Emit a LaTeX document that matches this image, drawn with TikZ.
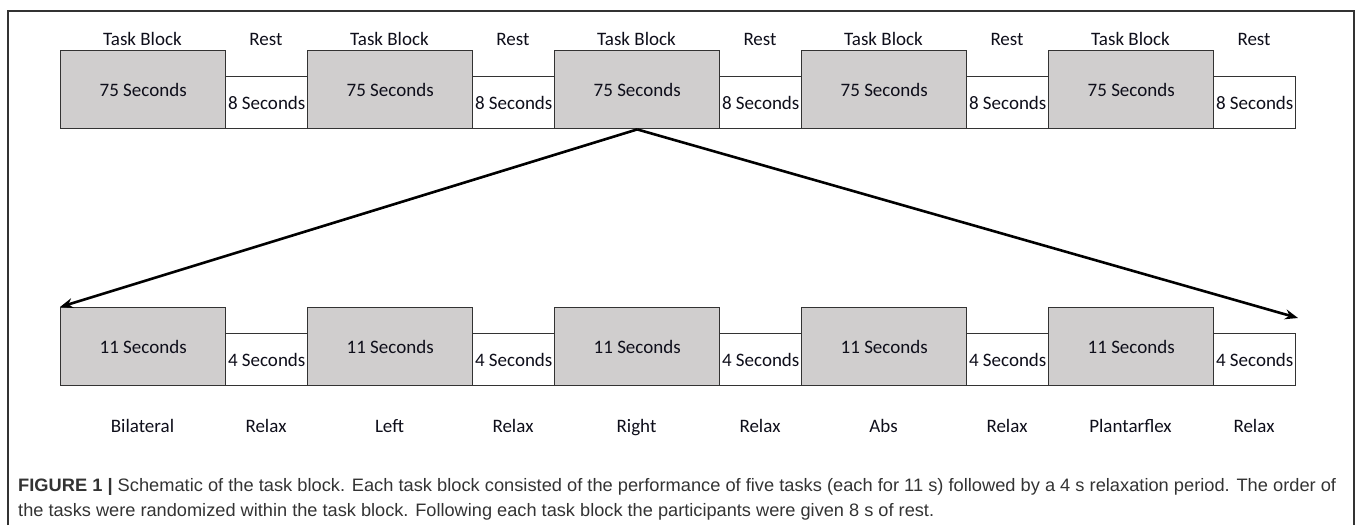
\documentclass[tikz,border=0pt]{standalone}
\usepackage{fontspec}
\usepackage{graphicx}
\setmainfont{Carlito}
\newfontfamily\capfont{Liberation Sans}
\usetikzlibrary{arrows.meta}
\definecolor{boxgray}{HTML}{D0CECE}
\definecolor{edgegray}{HTML}{333333}
\definecolor{captext}{HTML}{333333}
\definecolor{boxtext}{HTML}{0E0E1A}
\tikzset{
  taskbox/.style={draw=edgegray, line width=1.4pt, fill=boxgray, minimum width=165pt, minimum height=78pt, anchor=north west, inner sep=0pt, text=boxtext, font=\fontsize{19}{22}\selectfont},
  restbox/.style={draw=edgegray, line width=1.4pt, fill=white, minimum width=82pt, minimum height=52pt, anchor=north west, inner sep=0pt, text=boxtext, font=\fontsize{19}{22}\selectfont},
  lbl/.style={inner sep=0pt, text=boxtext, font=\fontsize{19}{22}\selectfont},
  conn/.style={line width=2.6pt, -{Stealth[length=13pt,width=10pt]}},
  captxt/.style={anchor=base west, inner sep=0pt, text=captext, font=\capfont\fontsize{18}{22}\selectfont},
}
\begin{document}
\begin{tikzpicture}[x=1pt,y=-1pt]
\useasboundingbox (0,0) rectangle (1357,525);
\draw[edgegray, line width=1.3pt] (8,525) -- (8,11) -- (1354,11) -- (1354,525);
% rows
\foreach \i in {0,...,4}{
  \pgfmathsetmacro{\xa}{60+247*\i}
  \pgfmathsetmacro{\xb}{225+247*\i}
  \node[taskbox] (t\i) at (\xa,50) {75 Seconds};
  \node[restbox] (r\i) at (\xb,76) {8 Seconds};
  \node[lbl, anchor=base] (tl\i) at (\xa+82.5,45) {Task Block};
  \node[lbl, anchor=base] (rl\i) at (\xb+41,45) {Rest};
  \node[taskbox] (b\i) at (\xa,307) {11 Seconds};
  \node[restbox] (s\i) at (\xb,333) {4 Seconds};
  \node[lbl, anchor=base] (sl\i) at (\xb+41,432) {Relax};
}
\node[lbl, anchor=base] (n0) at (142.5,432) {Bilateral};
\node[lbl, anchor=base] (n1) at (389.5,432) {Left};
\node[lbl, anchor=base] (n2) at (636.5,432) {Right};
\node[lbl, anchor=base] (n3) at (883.5,432) {Abs};
\node[lbl, anchor=base] (n4) at (1130.5,432) {Plantarflex};
\coordinate (rend) at (1298,318);
\draw[conn] (t2.south) -- (b0.north west);
\draw[conn] (t2.south) -- (rend);
% caption
\node[captxt] (cap1) at (18,491)
  {\resizebox{1318pt}{\height}{\textbf{FIGURE 1 |} Schematic of the task block. Each task block consisted of the performance of five tasks (each for 11 s) followed by a 4 s relaxation period. The order of}};
\node[captxt] (cap2) at (18,516)
  {\resizebox{916pt}{\height}{the tasks were randomized within the task block. Following each task block the participants were given 8 s of rest.}};
\end{tikzpicture}
\end{document}
